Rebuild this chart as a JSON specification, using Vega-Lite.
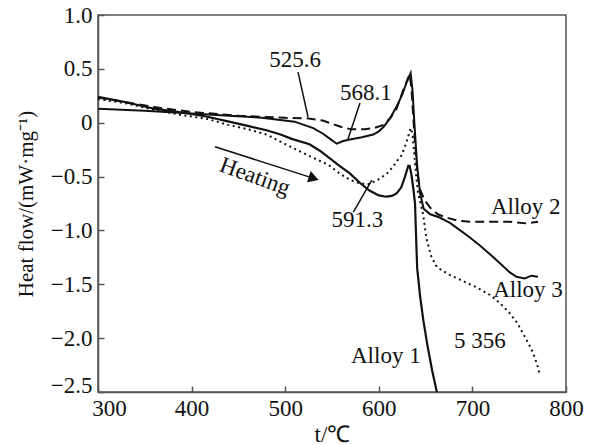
{
  "$schema": "https://vega.github.io/schema/vega-lite/v6.json",
  "width": 468,
  "height": 377,
  "autosize": {"type": "none"},
  "padding": {"left": 98, "top": 15, "right": 24, "bottom": 53},
  "background": "white",
  "config": {
    "view": {"stroke": "#555", "strokeWidth": 1.5},
    "font": "Liberation Serif",
    "axis": {
      "grid": false,
      "domainColor": "#555",
      "domainWidth": 1.5,
      "tickColor": "#555",
      "tickWidth": 1.5,
      "tickSize": -6,
      "labelFont": "Liberation Serif",
      "labelFontSize": 23,
      "labelColor": "#111",
      "titleFont": "Liberation Serif",
      "titleFontSize": 23,
      "titleFontWeight": "normal",
      "titleColor": "#111"
    }
  },
  "datasets": {
    "curves": [
      {"s": "Alloy 2", "x": 300, "y": 0.235}, {"s": "Alloy 2", "x": 330, "y": 0.19}, {"s": "Alloy 2", "x": 360, "y": 0.145}, {"s": "Alloy 2", "x": 400, "y": 0.10}, {"s": "Alloy 2", "x": 450, "y": 0.065}, {"s": "Alloy 2", "x": 500, "y": 0.045}, {"s": "Alloy 2", "x": 525, "y": 0.04}, {"s": "Alloy 2", "x": 540, "y": 0.02}, {"s": "Alloy 2", "x": 550, "y": -0.01}, {"s": "Alloy 2", "x": 560, "y": -0.04}, {"s": "Alloy 2", "x": 570, "y": -0.06}, {"s": "Alloy 2", "x": 585, "y": -0.06}, {"s": "Alloy 2", "x": 595, "y": -0.05}, {"s": "Alloy 2", "x": 605, "y": -0.02}, {"s": "Alloy 2", "x": 612, "y": 0.04}, {"s": "Alloy 2", "x": 619, "y": 0.13}, {"s": "Alloy 2", "x": 626, "y": 0.30}, {"s": "Alloy 2", "x": 631, "y": 0.41}, {"s": "Alloy 2", "x": 633, "y": 0.45}, {"s": "Alloy 2", "x": 635, "y": 0.30}, {"s": "Alloy 2", "x": 638, "y": -0.1}, {"s": "Alloy 2", "x": 641, "y": -0.45}, {"s": "Alloy 2", "x": 644, "y": -0.62}, {"s": "Alloy 2", "x": 649, "y": -0.72}, {"s": "Alloy 2", "x": 655, "y": -0.79}, {"s": "Alloy 2", "x": 663, "y": -0.85}, {"s": "Alloy 2", "x": 672, "y": -0.88}, {"s": "Alloy 2", "x": 685, "y": -0.91}, {"s": "Alloy 2", "x": 700, "y": -0.92}, {"s": "Alloy 2", "x": 720, "y": -0.92}, {"s": "Alloy 2", "x": 740, "y": -0.92}, {"s": "Alloy 2", "x": 758, "y": -0.935}, {"s": "Alloy 2", "x": 770, "y": -0.92},

      {"s": "Alloy 3", "x": 300, "y": 0.13}, {"s": "Alloy 3", "x": 350, "y": 0.11}, {"s": "Alloy 3", "x": 400, "y": 0.085}, {"s": "Alloy 3", "x": 440, "y": 0.065}, {"s": "Alloy 3", "x": 475, "y": 0.047}, {"s": "Alloy 3", "x": 510, "y": 0.01}, {"s": "Alloy 3", "x": 530, "y": -0.05}, {"s": "Alloy 3", "x": 540, "y": -0.10}, {"s": "Alloy 3", "x": 548, "y": -0.15}, {"s": "Alloy 3", "x": 555, "y": -0.195}, {"s": "Alloy 3", "x": 562, "y": -0.17}, {"s": "Alloy 3", "x": 569, "y": -0.155}, {"s": "Alloy 3", "x": 582, "y": -0.135}, {"s": "Alloy 3", "x": 594, "y": -0.11}, {"s": "Alloy 3", "x": 600, "y": -0.08}, {"s": "Alloy 3", "x": 605, "y": -0.04}, {"s": "Alloy 3", "x": 612, "y": 0.04}, {"s": "Alloy 3", "x": 619, "y": 0.15}, {"s": "Alloy 3", "x": 625, "y": 0.26}, {"s": "Alloy 3", "x": 630, "y": 0.38}, {"s": "Alloy 3", "x": 634, "y": 0.46}, {"s": "Alloy 3", "x": 636, "y": 0.3}, {"s": "Alloy 3", "x": 638, "y": 0.0}, {"s": "Alloy 3", "x": 641, "y": -0.4}, {"s": "Alloy 3", "x": 644, "y": -0.65}, {"s": "Alloy 3", "x": 648, "y": -0.8}, {"s": "Alloy 3", "x": 655, "y": -0.85}, {"s": "Alloy 3", "x": 665, "y": -0.88}, {"s": "Alloy 3", "x": 676, "y": -0.93}, {"s": "Alloy 3", "x": 687, "y": -1.0}, {"s": "Alloy 3", "x": 698, "y": -1.07}, {"s": "Alloy 3", "x": 708, "y": -1.14}, {"s": "Alloy 3", "x": 720, "y": -1.23}, {"s": "Alloy 3", "x": 730, "y": -1.31}, {"s": "Alloy 3", "x": 740, "y": -1.39}, {"s": "Alloy 3", "x": 747, "y": -1.43}, {"s": "Alloy 3", "x": 756, "y": -1.445}, {"s": "Alloy 3", "x": 763, "y": -1.42}, {"s": "Alloy 3", "x": 770, "y": -1.43},

      {"s": "Alloy 1", "x": 300, "y": 0.24}, {"s": "Alloy 1", "x": 330, "y": 0.19}, {"s": "Alloy 1", "x": 360, "y": 0.13}, {"s": "Alloy 1", "x": 390, "y": 0.095}, {"s": "Alloy 1", "x": 417, "y": 0.055}, {"s": "Alloy 1", "x": 440, "y": 0.01}, {"s": "Alloy 1", "x": 460, "y": -0.03}, {"s": "Alloy 1", "x": 480, "y": -0.07}, {"s": "Alloy 1", "x": 495, "y": -0.11}, {"s": "Alloy 1", "x": 507, "y": -0.15}, {"s": "Alloy 1", "x": 526, "y": -0.20}, {"s": "Alloy 1", "x": 537, "y": -0.26}, {"s": "Alloy 1", "x": 546, "y": -0.32}, {"s": "Alloy 1", "x": 558, "y": -0.40}, {"s": "Alloy 1", "x": 569, "y": -0.47}, {"s": "Alloy 1", "x": 580, "y": -0.56}, {"s": "Alloy 1", "x": 590, "y": -0.63}, {"s": "Alloy 1", "x": 600, "y": -0.675}, {"s": "Alloy 1", "x": 608, "y": -0.687}, {"s": "Alloy 1", "x": 614, "y": -0.68}, {"s": "Alloy 1", "x": 619, "y": -0.656}, {"s": "Alloy 1", "x": 624, "y": -0.60}, {"s": "Alloy 1", "x": 628, "y": -0.50}, {"s": "Alloy 1", "x": 631.5, "y": -0.40}, {"s": "Alloy 1", "x": 633, "y": -0.40}, {"s": "Alloy 1", "x": 635, "y": -0.49}, {"s": "Alloy 1", "x": 637, "y": -0.62}, {"s": "Alloy 1", "x": 638.7, "y": -0.75}, {"s": "Alloy 1", "x": 639.8, "y": -1.05}, {"s": "Alloy 1", "x": 641, "y": -1.35}, {"s": "Alloy 1", "x": 644, "y": -1.6}, {"s": "Alloy 1", "x": 647.5, "y": -1.83}, {"s": "Alloy 1", "x": 652, "y": -2.07}, {"s": "Alloy 1", "x": 657, "y": -2.3}, {"s": "Alloy 1", "x": 662, "y": -2.5},

      {"s": "5356", "x": 300, "y": 0.22}, {"s": "5356", "x": 330, "y": 0.18}, {"s": "5356", "x": 360, "y": 0.12}, {"s": "5356", "x": 390, "y": 0.07}, {"s": "5356", "x": 417, "y": 0.035}, {"s": "5356", "x": 439, "y": -0.02}, {"s": "5356", "x": 460, "y": -0.06}, {"s": "5356", "x": 480, "y": -0.11}, {"s": "5356", "x": 505, "y": -0.22}, {"s": "5356", "x": 526, "y": -0.31}, {"s": "5356", "x": 546, "y": -0.39}, {"s": "5356", "x": 558, "y": -0.47}, {"s": "5356", "x": 569, "y": -0.53}, {"s": "5356", "x": 580, "y": -0.565}, {"s": "5356", "x": 590, "y": -0.57}, {"s": "5356", "x": 601, "y": -0.52}, {"s": "5356", "x": 609, "y": -0.47}, {"s": "5356", "x": 615, "y": -0.41}, {"s": "5356", "x": 620, "y": -0.35}, {"s": "5356", "x": 624.5, "y": -0.30}, {"s": "5356", "x": 628, "y": -0.22}, {"s": "5356", "x": 631, "y": -0.14}, {"s": "5356", "x": 634, "y": -0.05}, {"s": "5356", "x": 636, "y": -0.1}, {"s": "5356", "x": 638, "y": -0.3}, {"s": "5356", "x": 640, "y": -0.5}, {"s": "5356", "x": 642, "y": -0.66}, {"s": "5356", "x": 645, "y": -0.76}, {"s": "5356", "x": 647.5, "y": -0.86}, {"s": "5356", "x": 651, "y": -1.08}, {"s": "5356", "x": 656, "y": -1.24}, {"s": "5356", "x": 662, "y": -1.34}, {"s": "5356", "x": 675, "y": -1.41}, {"s": "5356", "x": 690, "y": -1.47}, {"s": "5356", "x": 705, "y": -1.53}, {"s": "5356", "x": 719, "y": -1.6}, {"s": "5356", "x": 730, "y": -1.68}, {"s": "5356", "x": 740, "y": -1.77}, {"s": "5356", "x": 748, "y": -1.86}, {"s": "5356", "x": 754, "y": -1.956}, {"s": "5356", "x": 760, "y": -2.05}, {"s": "5356", "x": 765, "y": -2.14}, {"s": "5356", "x": 769, "y": -2.24}, {"s": "5356", "x": 772, "y": -2.34}
    ],
    "leaders": [
      {"x": 513.7, "y": 0.47, "x2": 524.4, "y2": 0.053},
      {"x": 579.9, "y": 0.183, "x2": 567.1, "y2": -0.151},
      {"x": 572.8, "y": -0.83, "x2": 592.5, "y2": -0.532},
      {"x": 425, "y": -0.223, "x2": 528, "y2": -0.51}
    ],
    "labels": [
      {"t": "525.6", "x": 510.5, "y": 0.582, "a": 0},
      {"t": "568.1", "x": 586.3, "y": 0.276, "a": 0},
      {"t": "591.3", "x": 577, "y": -0.9, "a": 0},
      {"t": "Heating", "x": 467.7, "y": -0.50, "a": 20},
      {"t": "Alloy 2", "x": 757, "y": -0.78, "a": 0},
      {"t": "Alloy 3", "x": 759.4, "y": -1.553, "a": 0},
      {"t": "5 356", "x": 708, "y": -2.03, "a": 0},
      {"t": "Alloy 1", "x": 607.5, "y": -2.166, "a": 0}
    ],
    "arrow": [{"x": 530.5, "y": -0.516}]
  },
  "layer": [
    {
      "data": {"name": "curves"},
      "transform": [{"filter": "datum.s === 'Alloy 2'"}],
      "mark": {"type": "line", "color": "#111", "strokeWidth": 2, "strokeDash": [9, 5]},
      "encoding": {
        "x": {"field": "x", "type": "quantitative", "scale": {"domain": [300, 800], "nice": false, "zero": false},
          "axis": {"values": [300, 400, 500, 600, 700, 800], "title": "t/℃", "labelPadding": 11, "titlePadding": 3,
            "labelFlush": false,
            "labelOffset": {"condition": {"test": "datum.value == 300", "value": 11}, "value": 0}}},
        "y": {"field": "y", "type": "quantitative", "scale": {"domain": [-2.5, 1.0], "nice": false, "zero": false},
          "axis": {"values": [-2.5, -2.0, -1.5, -1.0, -0.5, 0, 0.5, 1.0], "title": "Heat flow/(mW·mg⁻¹)", "labelPadding": 12, "titlePadding": 14, "titleFontSize": 21,
            "labelOffset": {"condition": {"test": "datum.value == -2.5", "value": -7}, "value": 0},
            "labelExpr": "datum.value == 0 ? '0' : format(datum.value, '.1f')"}}
      }
    },
    {
      "data": {"name": "curves"},
      "transform": [{"filter": "datum.s === 'Alloy 3'"}],
      "mark": {"type": "line", "color": "#111", "strokeWidth": 2},
      "encoding": {"x": {"field": "x", "type": "quantitative"}, "y": {"field": "y", "type": "quantitative"}}
    },
    {
      "data": {"name": "curves"},
      "transform": [{"filter": "datum.s === 'Alloy 1'"}],
      "mark": {"type": "line", "color": "#111", "strokeWidth": 2.2},
      "encoding": {"x": {"field": "x", "type": "quantitative"}, "y": {"field": "y", "type": "quantitative"}}
    },
    {
      "data": {"name": "curves"},
      "transform": [{"filter": "datum.s === '5356'"}],
      "mark": {"type": "line", "color": "#111", "strokeWidth": 2, "strokeDash": [2, 3.5]},
      "encoding": {"x": {"field": "x", "type": "quantitative"}, "y": {"field": "y", "type": "quantitative"}}
    },
    {
      "data": {"name": "leaders"},
      "mark": {"type": "rule", "color": "#111", "strokeWidth": 1.5},
      "encoding": {
        "x": {"field": "x", "type": "quantitative"}, "y": {"field": "y", "type": "quantitative"},
        "x2": {"field": "x2"}, "y2": {"field": "y2"}
      }
    },
    {
      "data": {"name": "arrow"},
      "mark": {"type": "point", "shape": "triangle-right", "filled": true, "color": "#111", "size": 140, "angle": 18, "opacity": 1},
      "encoding": {"x": {"field": "x", "type": "quantitative"}, "y": {"field": "y", "type": "quantitative"}}
    },
    {
      "data": {"name": "labels"},
      "mark": {"type": "text", "font": "Liberation Serif", "fontSize": 23, "color": "#111", "align": "center", "baseline": "middle"},
      "encoding": {
        "x": {"field": "x", "type": "quantitative"}, "y": {"field": "y", "type": "quantitative"},
        "text": {"field": "t"}, "angle": {"field": "a", "type": "quantitative", "scale": null}
      }
    }
  ]
}
